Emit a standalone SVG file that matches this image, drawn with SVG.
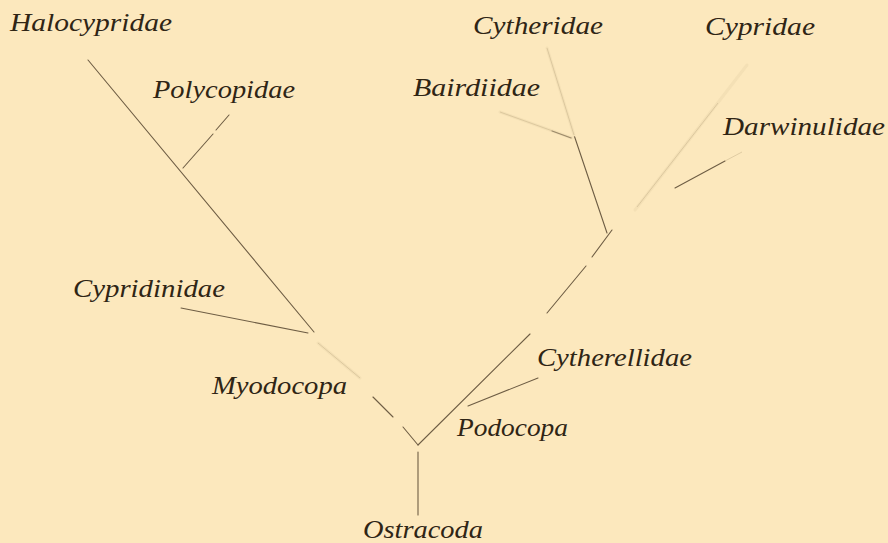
<svg xmlns="http://www.w3.org/2000/svg" width="888" height="543" viewBox="0 0 888 543">
<defs>
<style>
.lbl{font-family:"Liberation Serif","Times New Roman",serif;font-style:italic;font-size:25px;fill:#2f2515}
.ln{stroke:#6e5d44;stroke-width:1.1;fill:none;stroke-linecap:round}
.fa{stroke:#f4e0b5;stroke-width:3;fill:none;stroke-linecap:round}
.fl{stroke:#c9b58c;stroke-width:1;fill:none;opacity:0.55}
</style>
</defs>
<rect width="888" height="543" fill="#fce8bd"/>
<g id="connectors">
<line class="ln" x1="88" y1="60" x2="314" y2="332"/>
<line class="ln" x1="183" y1="168" x2="213" y2="134"/>
<line class="ln" x1="216" y1="130" x2="229" y2="115"/>
<line class="ln" x1="181" y1="308" x2="308" y2="333"/>
<line class="fa" x1="318" y1="343" x2="360" y2="378"/>
<line class="fl" x1="318" y1="343" x2="360" y2="378"/>
<line class="ln" x1="373" y1="397" x2="393" y2="417"/>
<line class="ln" x1="403" y1="427" x2="418" y2="445"/>
<line class="ln" x1="418" y1="452" x2="418" y2="515"/>
<line class="ln" x1="418" y1="445" x2="530" y2="334"/>
<line class="ln" x1="547" y1="313" x2="586" y2="266"/>
<line class="ln" x1="592" y1="257" x2="612" y2="230"/>
<line class="ln" x1="468" y1="406" x2="538" y2="378"/>
<line class="ln" x1="607" y1="233" x2="574" y2="135"/>
<line class="fa" x1="574" y1="135" x2="547" y2="48"/>
<line class="fl" x1="574" y1="135" x2="547" y2="48"/>
<line class="fa" x1="500" y1="112" x2="572" y2="138"/>
<line class="fl" x1="500" y1="112" x2="572" y2="138"/>
<line class="ln" x1="552" y1="131" x2="571" y2="138" style="opacity:0.6"/>
<line class="fa" x1="635" y1="210" x2="747" y2="65"/>
<line class="fl" x1="637" y1="207" x2="718" y2="103"/>
<line class="ln" x1="675" y1="188" x2="725" y2="161"/>
<line class="fl" x1="725" y1="161" x2="742" y2="152"/>
</g>
<g id="n-halocypridae"><text class="lbl" x="10" y="31" textLength="162" lengthAdjust="spacingAndGlyphs">Halocypridae</text></g>
<g id="n-polycopidae"><text class="lbl" x="153" y="98" textLength="142" lengthAdjust="spacingAndGlyphs">Polycopidae</text></g>
<g id="n-cypridinidae"><text class="lbl" x="73" y="297" textLength="152" lengthAdjust="spacingAndGlyphs">Cypridinidae</text></g>
<g id="n-myodocopa"><text class="lbl" x="212" y="394" textLength="135" lengthAdjust="spacingAndGlyphs">Myodocopa</text></g>
<g id="n-ostracoda"><text class="lbl" x="363" y="538" textLength="120" lengthAdjust="spacingAndGlyphs">Ostracoda</text></g>
<g id="n-podocopa"><text class="lbl" x="457" y="436" textLength="111" lengthAdjust="spacingAndGlyphs">Podocopa</text></g>
<g id="n-cytherellidae"><text class="lbl" x="537" y="366" textLength="155" lengthAdjust="spacingAndGlyphs">Cytherellidae</text></g>
<g id="n-cytheridae"><text class="lbl" x="473" y="34" textLength="130" lengthAdjust="spacingAndGlyphs">Cytheridae</text></g>
<g id="n-cypridae"><text class="lbl" x="705" y="35" textLength="110" lengthAdjust="spacingAndGlyphs">Cypridae</text></g>
<g id="n-bairdiidae"><text class="lbl" x="413" y="96" textLength="127" lengthAdjust="spacingAndGlyphs">Bairdiidae</text></g>
<g id="n-darwinulidae"><text class="lbl" x="723" y="135" textLength="162" lengthAdjust="spacingAndGlyphs">Darwinulidae</text></g>
</svg>
